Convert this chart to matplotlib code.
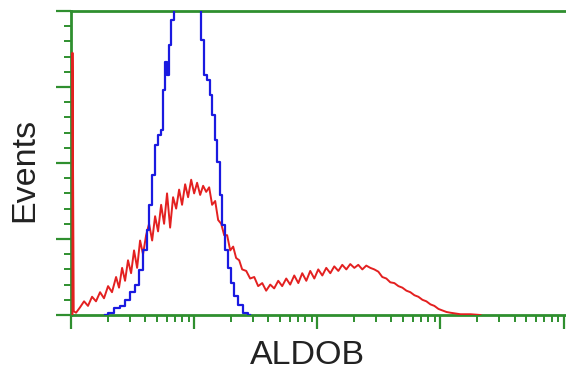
import matplotlib
matplotlib.use("Agg")
import matplotlib.pyplot as plt
import numpy as np
from matplotlib.ticker import LogLocator, MultipleLocator, NullFormatter

# Fluorescence (log10 decades) and event counts (arbitrary units)
blue_log = [0.276, 0.317, 0.374, 0.415, 0.455, 0.496, 0.537, 0.569, 0.602, 0.626,
            0.642, 0.667, 0.691, 0.715, 0.740, 0.756, 0.772, 0.789, 0.805, 0.821,
            0.846, 0.870, 0.894, 0.919, 0.943, 0.967, 0.992, 1.016, 1.040, 1.065,
            1.089, 1.114, 1.138, 1.154, 1.179, 1.195, 1.220, 1.236, 1.260, 1.285,
            1.309, 1.341, 1.374, 1.415, 1.455]
blue_cnt = [0.00, 0.03, 0.09, 0.12, 0.20, 0.30, 0.39, 0.59, 0.86, 1.12,
            1.45, 1.84, 2.24, 2.37, 2.43, 2.96, 3.33, 3.16, 3.55, 3.88,
            4.40, 4.50, 4.60, 4.50, 4.60, 4.50, 4.40, 4.50, 4.30, 3.62,
            3.16, 3.09, 2.89, 2.63, 2.30, 2.01, 1.58, 1.18, 0.86, 0.62,
            0.42, 0.25, 0.13, 0.03, 0.00]

red_log = [0.012, 0.012, 0.022, 0.041, 0.073, 0.106, 0.138, 0.171, 0.203, 0.236, 0.268,
           0.301, 0.333, 0.366, 0.390, 0.415, 0.439, 0.463, 0.488, 0.512, 0.537,
           0.561, 0.585, 0.610, 0.634, 0.659, 0.683, 0.707, 0.732, 0.756, 0.780,
           0.805, 0.829, 0.854, 0.878, 0.902, 0.927, 0.951, 0.976, 1.000, 1.024,
           1.049, 1.073, 1.098, 1.122, 1.146, 1.171, 1.195, 1.220, 1.244, 1.268,
           1.293, 1.317, 1.341, 1.366, 1.390, 1.423, 1.455, 1.488, 1.520, 1.553,
           1.585, 1.618, 1.650, 1.683, 1.715, 1.748, 1.780, 1.813, 1.846, 1.878,
           1.911, 1.943, 1.976, 2.008, 2.041, 2.073, 2.106, 2.138, 2.171, 2.203,
           2.236, 2.268, 2.301, 2.333, 2.366, 2.398, 2.431, 2.463, 2.496, 2.528,
           2.561, 2.593, 2.626, 2.659, 2.691, 2.724, 2.756, 2.789, 2.821, 2.854,
           2.886, 2.919, 2.951, 2.984, 3.016, 3.049, 3.081, 3.122, 3.163, 3.244,
           3.325]
red_cnt = [0.00, 3.45, 0.05, 0.03, 0.10, 0.18, 0.12, 0.24, 0.18, 0.30, 0.22,
           0.38, 0.30, 0.50, 0.36, 0.62, 0.45, 0.72, 0.55, 0.85, 0.62,
           0.98, 0.80, 1.05, 1.20, 0.98, 1.30, 1.10, 1.45, 1.20, 1.60,
           1.15, 1.55, 1.40, 1.65, 1.45, 1.72, 1.55, 1.78, 1.60, 1.74,
           1.58, 1.70, 1.62, 1.68, 1.45, 1.50, 1.25, 1.20, 1.05, 1.05,
           0.85, 0.90, 0.75, 0.72, 0.60, 0.58, 0.48, 0.50, 0.38, 0.42,
           0.32, 0.40, 0.35, 0.45, 0.38, 0.48, 0.40, 0.52, 0.42, 0.55,
           0.45, 0.58, 0.48, 0.60, 0.52, 0.62, 0.55, 0.64, 0.58, 0.66,
           0.60, 0.67, 0.62, 0.66, 0.60, 0.65, 0.62, 0.60, 0.57, 0.50,
           0.48, 0.43, 0.42, 0.38, 0.36, 0.32, 0.30, 0.26, 0.24, 0.20,
           0.18, 0.14, 0.12, 0.08, 0.06, 0.04, 0.03, 0.02, 0.01, 0.01,
           0.00]

green = "#2f8f2f"
W, H = 566, 373
fig = plt.figure(figsize=(W / 100, H / 100), dpi=100)
ax = fig.add_axes([71 / W, 1 - 315 / H, (W - 71) / W, (315 - 11) / H])

ax.plot(10 ** np.array(red_log), red_cnt, color="#e32020", lw=1.4, zorder=3)
ax.plot(10 ** np.array(blue_log), blue_cnt, color="#1a1ae0", lw=1.6,
        drawstyle="steps-mid", zorder=3)

ax.set_xscale("log")
ax.set_xlim(1, 10 ** 4.02)
ax.set_ylim(0, 4)
ax.xaxis.set_major_locator(LogLocator(base=10, numticks=10))
ax.xaxis.set_minor_locator(LogLocator(base=10, subs=np.arange(2, 10), numticks=20))
ax.xaxis.set_major_formatter(NullFormatter())
ax.xaxis.set_minor_formatter(NullFormatter())
ax.yaxis.set_major_locator(MultipleLocator(1))
ax.yaxis.set_minor_locator(MultipleLocator(0.2))
ax.yaxis.set_major_formatter(NullFormatter())

for s in ["left", "top", "bottom"]:
    ax.spines[s].set_color(green)
    ax.spines[s].set_linewidth(2)
ax.spines["right"].set_visible(False)
ax.tick_params(which="major", direction="out", color=green, width=1.6, length=10)
ax.tick_params(which="minor", direction="out", color=green, width=1.4, length=5)
ax.tick_params(axis="y", which="major", length=11)
ax.tick_params(top=False, right=False)

fig.text(25 / W, 1 - 170 / H, "Events", rotation=90, ha="center", va="center",
         fontsize=24.5, family="Liberation Sans", color="#222222")
fig.text(307 / W, 1 - 356 / H, "ALDOB", ha="center", va="center",
         fontsize=24.5, family="Liberation Sans", color="#222222")

fig.savefig("out.png", dpi=100)
